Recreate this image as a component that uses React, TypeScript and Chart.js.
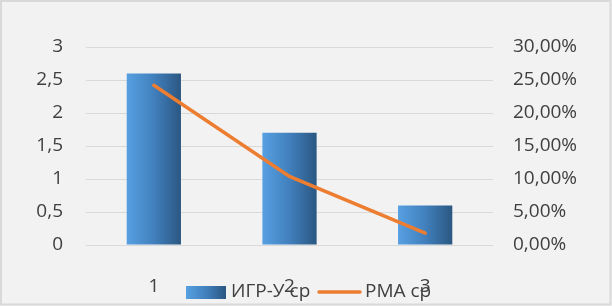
import React, { useEffect, useRef } from "react";
import { Chart, registerables } from "chart.js";

Chart.register(...registerables);

const categories = ["1", "2", "3"];
const igrValues = [2.6, 1.7, 0.6];
const rmaValues = [0.242, 0.104, 0.018];
const seriesLabels = ["ИГР-У ср", "РМА ср"];

const FONT = "'Open Sans', 'Liberation Sans', sans-serif";
const FS = 19;
const BAR_PCT = 0.4;

function fmtComma(v: number, digits?: number) {
  const s = digits === undefined ? String(Math.round(v * 100) / 100) : v.toFixed(digits);
  return s.replace(".", ",");
}

function barGradient(ctx: CanvasRenderingContext2D, x0: number, x1: number) {
  const g = ctx.createLinearGradient(x0, 0, x1, 0);
  g.addColorStop(0, "#57A0E2");
  g.addColorStop(0.5, "#4180BD");
  g.addColorStop(1, "#2B5782");
  return g;
}

const bgPlugin = {
  id: "bgPlugin",
  beforeDraw(chart: any) {
    const { ctx, width, height } = chart;
    ctx.save();
    ctx.fillStyle = "#F2F2F2";
    ctx.fillRect(0, 0, width, height);
    ctx.strokeStyle = "#D9D9D9";
    ctx.lineWidth = 2;
    ctx.strokeRect(1, 1, width - 2.5, height - 2.5);
    ctx.restore();
  },
};

const legendPlugin = {
  id: "customLegend",
  afterDraw(chart: any) {
    const { ctx } = chart;
    const barDs = chart.data.datasets.find((d: any) => d.type === "bar");
    const lineDs = chart.data.datasets.find((d: any) => d.type === "line");
    ctx.save();
    const y = 292;
    ctx.fillStyle = barGradient(ctx, 186, 226);
    ctx.fillRect(186, 286, 40, 13);
    ctx.font = `${FS}px ${FONT}`;
    ctx.fillStyle = "#404040";
    ctx.textBaseline = "middle";
    ctx.textAlign = "left";
    ctx.fillText(barDs.label, 231, y);
    ctx.strokeStyle = "#ED7D31";
    ctx.lineWidth = 3.5;
    ctx.lineCap = "round";
    ctx.beginPath();
    ctx.moveTo(319, y);
    ctx.lineTo(360, y);
    ctx.stroke();
    ctx.fillText(lineDs.label, 365, y);
    ctx.restore();
  },
};

export default function App() {
  const ref = useRef<HTMLCanvasElement>(null);
  useEffect(() => {
    if (!ref.current) return;
    const chart = new Chart(ref.current, {
      type: "bar",
      data: {
        labels: categories,
        datasets: [
          {
            type: "line",
            label: seriesLabels[1],
            data: rmaValues,
            yAxisID: "y1",
            borderColor: "#ED7D31",
            borderWidth: 3.5,
            pointRadius: 0,
            tension: 0,
            borderCapStyle: "round",
            order: 0,
          } as any,
          {
            type: "bar",
            label: seriesLabels[0],
            data: igrValues,
            yAxisID: "y",
            backgroundColor: (c: any) => {
              const xs = c.chart.scales && c.chart.scales.x;
              if (!xs || c.dataIndex === undefined) return "#4A8BCB";
              const cx = xs.getPixelForValue(c.dataIndex);
              const w = (xs.width / categories.length) * BAR_PCT;
              if (!isFinite(cx) || !isFinite(w) || w <= 0) return "#4A8BCB";
              return barGradient(c.chart.ctx, cx - w / 2, cx + w / 2);
            },
            barPercentage: BAR_PCT,
            categoryPercentage: 1,
            order: 1,
          } as any,
        ],
      },
      options: {
        responsive: false,
        animation: false,
        layout: { padding: { top: 47, left: 0, right: 0, bottom: 0 } },
        plugins: { legend: { display: false }, tooltip: { enabled: false } },
        scales: {
          x: {
            grid: { display: false },
            border: { display: false },
            ticks: { color: "#404040", font: { size: FS, family: FONT }, padding: 22 },
            afterFit: (s: any) => { s.height = 61; },
          },
          y: {
            position: "left",
            min: 0,
            max: 3,
            ticks: {
              stepSize: 0.5,
              color: "#404040",
              font: { size: FS, family: FONT },
              padding: 23,
              callback: (v: any) => fmtComma(Number(v)),
            },
            grid: { color: "#D9D9D9", lineWidth: 1, drawTicks: false },
            border: { display: false },
            afterFit: (s: any) => { s.width = 86; },
          },
          y1: {
            position: "right",
            min: 0,
            max: 0.3,
            ticks: {
              stepSize: 0.05,
              color: "#404040",
              font: { size: FS, family: FONT },
              padding: 20,
              callback: (v: any) => fmtComma(Number(v) * 100, 2) + "%",
            },
            grid: { display: false, drawTicks: false },
            border: { display: false },
            afterFit: (s: any) => { s.width = 119; },
          },
        },
      },
      plugins: [bgPlugin, legendPlugin],
    });
    chart.update();
    return () => chart.destroy();
  }, []);
  return (
    <div style={{ position: "fixed", left: 0, top: 0, width: 612, height: 306 }}>
      <canvas ref={ref} width={612} height={306} style={{ display: "block" }} />
    </div>
  );
}
